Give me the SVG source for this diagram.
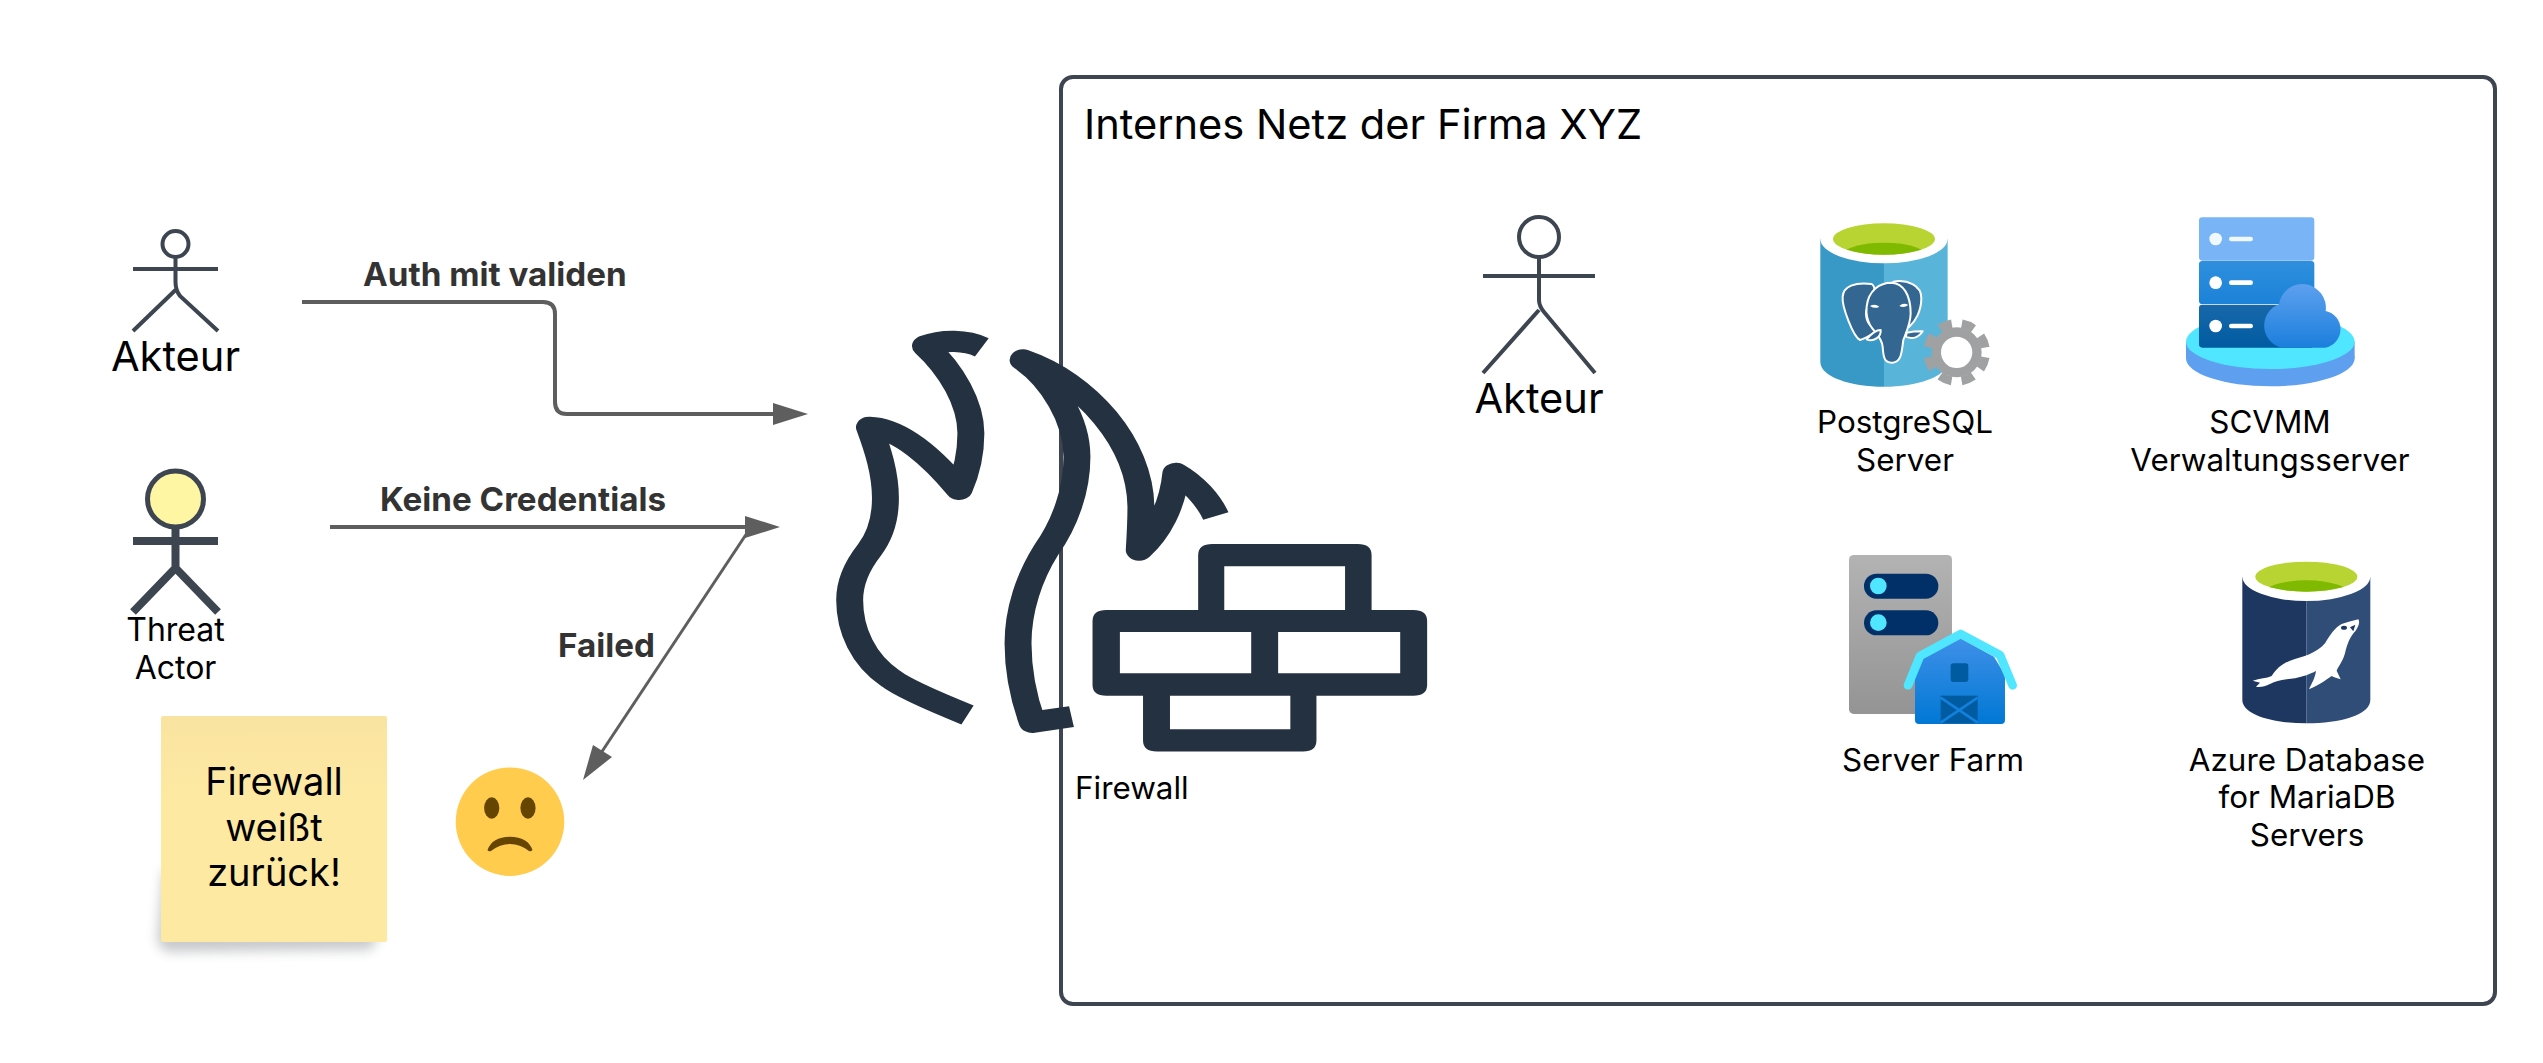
<svg xmlns="http://www.w3.org/2000/svg" width="2543" height="1063" viewBox="0 0 2543 1063">
<style>
text{font-family:"Inter","Liberation Sans",sans-serif;fill:#000}
.m{text-anchor:middle}
.l{font-weight:700;fill:#333;font-size:33.2px}
.t32{font-size:32px}
.t31{font-size:31.4px}
.t40{font-size:41.6px}
.st{font-size:38px}
.act{fill:none;stroke:#3d4550;stroke-width:4}
.con{fill:none;stroke:#5e5e5e;stroke-width:4}
</style>
<defs>
<linearGradient id="st" x1="0" y1="0" x2="0" y2="1"><stop offset="0" stop-color="#f9e3a0"/><stop offset=".35" stop-color="#fee9a3"/><stop offset="1" stop-color="#fee9a3"/></linearGradient>
<linearGradient id="cl" x1="0" y1="0" x2="0" y2="1"><stop offset="0" stop-color="#5ea0ef"/><stop offset="1" stop-color="#1b7fdc"/></linearGradient>
<linearGradient id="sv2" x1="0" y1="0" x2="0" y2="1"><stop offset="0" stop-color="#2f8fdd"/><stop offset="1" stop-color="#1b82d8"/></linearGradient>
<linearGradient id="sv3" x1="0" y1="0" x2="0" y2="1"><stop offset="0" stop-color="#1868aa"/><stop offset="1" stop-color="#005ba1"/></linearGradient>
<linearGradient id="gr" x1="0" y1="0" x2="0" y2="1"><stop offset="0" stop-color="#b3b3b3"/><stop offset="1" stop-color="#949494"/></linearGradient>
<linearGradient id="ba" x1="0" y1="0" x2="0" y2="1"><stop offset="0" stop-color="#3f90e8"/><stop offset="1" stop-color="#0078d4"/></linearGradient>
<filter id="sh" x="-30%" y="-30%" width="160%" height="160%"><feGaussianBlur stdDeviation="6"/></filter>
<clipPath id="pgg"><ellipse cx="372" cy="147" rx="153" ry="47"/></clipPath>
<clipPath id="mag"><ellipse cx="289" cy="110" rx="153" ry="45"/></clipPath>
</defs>

<g id="network-zone">
<rect x="1061" y="77" width="1434" height="927" rx="12" fill="#fff" stroke="#3d4550" stroke-width="4"/>
<text x="1084" y="139" style="font-size:41.6px">Internes Netz der Firma XYZ</text>
</g>

<g id="connectors">
<path class="con" d="M302,302H543Q555,302 555,314V402Q555,414 567,414H775"/>
<polygon points="773,403 808,414 773,425" fill="#5e5e5e"/>
<text class="l" x="363" y="286">Auth mit validen</text>
<path class="con" d="M330,527H747"/>
<polygon points="745,516 780,527 745,538" fill="#5e5e5e"/>
<text class="l" x="380" y="511">Keine Credentials</text>
<path class="con" d="M749,530L601,753" style="stroke-width:3"/>
<polygon points="583,780 593,745 612,757" fill="#5e5e5e"/>
<text class="l" x="558" y="657">Failed</text>
</g>

<g id="actor-akteur">
<ellipse class="act" cx="175.5" cy="244" rx="13" ry="13"/>
<path class="act" d="M133,269H218M175.5,257V282Q175.5,290 180,296L218,331M175.5,290L133,331"/>
<text class="m t40" x="175.5" y="371">Akteur</text>
</g>

<g id="actor-threat">
<path d="M175.5,527V568M133,541H218M175.5,568L133,612M175.5,568L218,612" fill="none" stroke="#3d4550" stroke-width="8"/>
<ellipse cx="175.5" cy="499" rx="28" ry="28" fill="#fff6a3" stroke="#3d4550" stroke-width="5"/>
<text class="m t32" x="175.5" y="641">Threat</text>
<text class="m t32" x="175.5" y="679">Actor</text>
</g>

<g id="sticky-note">
<path d="M163,870L157,942L166,952L370,950L380,936Z" fill="#4a4f56" opacity=".3" filter="url(#sh)"/>
<rect x="161" y="716" width="226" height="226" rx="2" fill="url(#st)"/>
<text class="m st" x="274" y="795">Firewall</text>
<text class="m st" x="274" y="841">weißt</text>
<text class="m st" x="274" y="886">zurück!</text>
</g>

<g id="sad-face">
<circle cx="510" cy="821.7" r="54.3" fill="#ffcc4d"/>
<ellipse cx="491.7" cy="808" rx="7.6" ry="10.7" fill="#664500"/>
<ellipse cx="528" cy="808" rx="7.6" ry="10.7" fill="#664500"/>
<path d="M487.5,850Q492,837 510,836.7Q528,837 532.5,850Q531,852 529,851Q520,844 510,844Q500,844 491,851Q488.5,852 487.5,850Z" fill="#664500"/>
</g>

<g id="firewall">
<g transform="translate(800 310) scale(.4209 .3333)" fill="none" stroke="#243140" stroke-width="64" stroke-linejoin="round">
<path d="M398,1215C300,1165 240,1130 215,1105C150,1050 118,960 118,870C118,810 140,760 165,720C195,670 203,620 203,565C203,490 185,420 165,352C240,355 320,450 378,538C395,490 406,430 406,370C406,280 360,180 298,108C340,88 395,90 432,112"/>
<path d="M645,1220L552,1237C530,1160 518,1080 518,1000C518,900 545,800 585,720C630,640 658,540 658,440C658,330 600,210 530,150C680,215 808,400 810,590C810,640 808,680 806,720C850,670 885,590 893,490C935,520 970,570 988,618"/>
</g>
<g transform="translate(800 310) scale(.4209 .3333)">
<path fill="#243140" fill-rule="evenodd" d="M980,702H1325Q1358,702 1358,735V900H1457Q1490,900 1490,933V1125Q1490,1157 1457,1157H1227V1292Q1227,1325 1195,1325H848Q815,1325 815,1292V1157H728Q695,1157 695,1125V933Q695,900 728,900H946V735Q946,702 980,702ZM1008,769V900H1295V769ZM760,966V1090H1072V966ZM1136,966V1090H1426V966ZM879,1157V1258H1165V1157Z"/>
</g>
<text x="1075" y="799" style="font-size:31.4px">Firewall</text>
</g>

<g id="actor-akteur-intern">
<ellipse class="act" cx="1539" cy="237" rx="20" ry="20"/>
<path class="act" d="M1483,276H1595M1539,257V300Q1539,306 1544,312L1595,373M1539,310L1483,373"/>
<text class="m t40" x="1539" y="413">Akteur</text>
</g>

<g id="postgresql-server">
<g transform="translate(1760 190) scale(.3333)">
<path d="M181,147V515C181,560 270,590 372,590V147Z" fill="#3999c6"/>
<path d="M372,147V590C470,590 563,560 563,515V147Z" fill="#59b4d9"/>
<ellipse cx="372" cy="147" rx="191" ry="73" fill="#fff"/>
<ellipse cx="372" cy="147" rx="153" ry="47" fill="#b8d432"/>
<ellipse cx="372" cy="205" rx="135" ry="47" fill="#7fba00" clip-path="url(#pgg)"/>
<g fill="#336791" stroke="#fff" stroke-width="6" stroke-linejoin="round">
<path d="M248,320C250,290 285,275 335,282C360,300 320,330 318,370C318,395 330,412 355,420C330,435 320,445 300,450C280,440 245,350 248,320Z"/>
<path d="M400,275C440,268 485,285 484,325C484,365 465,395 448,410L415,340Z"/>
<path d="M320,350C325,300 360,278 395,278C430,280 452,315 452,370C452,400 440,425 430,450C425,485 425,515 398,518C372,520 370,500 368,470C365,440 345,430 330,405C322,390 318,370 320,350Z"/>
<path d="M320,448C335,430 350,420 362,420C365,440 340,458 320,448ZM440,428C455,425 475,424 488,424C475,445 455,448 438,440Z"/>
</g>
<path d="M330,348Q345,340 358,350Q345,358 330,348ZM418,348Q430,336 445,345Q432,356 418,348Z" fill="#fff"/>
<circle cx="590" cy="487" r="61" fill="#fff" stroke="#a0a1a2" stroke-width="28"/>
<circle cx="590" cy="487" r="87" fill="none" stroke="#a0a1a2" stroke-width="26" stroke-dasharray="38 30.33" stroke-dashoffset="-15"/>
</g>
<text class="m t31" x="1905" y="433">PostgreSQL</text>
<text class="m t31" x="1905" y="471">Server</text>
</g>

<g id="scvmm-server">
<g transform="translate(2150 190) scale(.3333)">
<ellipse cx="361" cy="505" rx="253" ry="84" fill="#5ea0ef"/>
<rect x="108" y="455" width="506" height="50" fill="#5ea0ef"/>
<ellipse cx="361" cy="455" rx="253" ry="82" fill="#50e6ff"/>
<rect x="147" y="82" width="346" height="130" rx="10" fill="#79b4f6"/>
<rect x="147" y="213" width="346" height="129" rx="10" fill="url(#sv2)"/>
<rect x="147" y="344" width="346" height="129" rx="10" fill="url(#sv3)"/>
<circle cx="197" cy="147" r="19" fill="#f0f9ff"/><circle cx="197" cy="278" r="19" fill="#fff"/><circle cx="197" cy="408" r="19" fill="#fff"/>
<rect x="237" y="140" width="72" height="14" rx="7" fill="#f0f9ff"/><rect x="237" y="271" width="72" height="14" rx="7" fill="#fff"/><rect x="237" y="401" width="72" height="14" rx="7" fill="#fff"/>
<path d="M395,473A68,68 0 0 1 387,343A70,70 0 0 1 527,363A56,56 0 0 1 525,473Z" fill="url(#cl)"/>
</g>
<text class="m t31" x="2270" y="433">SCVMM</text>
<text class="m t31" x="2270" y="471">Verwaltungsserver</text>
</g>

<g id="server-farm">
<g transform="translate(1820 530) scale(.3333)">
<rect x="87" y="75" width="309" height="477" rx="14" fill="url(#gr)"/>
<rect x="132" y="131" width="223" height="75" rx="37" fill="#003067"/>
<rect x="132" y="241" width="223" height="75" rx="37" fill="#003067"/>
<circle cx="175" cy="168" r="25" fill="#50e6ff"/><circle cx="175" cy="278" r="25" fill="#50e6ff"/>
<path d="M285,435L305,385L422,325L522,380L555,435V570Q555,582 543,582H297Q285,582 285,570Z" fill="url(#ba)"/>
<path d="M264,466L300,378L422,312L540,375L578,466" fill="none" stroke="#50e6ff" stroke-width="26" stroke-linecap="round" stroke-linejoin="round"/>
<rect x="392" y="400" width="53" height="56" rx="8" fill="#005ba1"/>
<rect x="362" y="497" width="111" height="83" fill="#005ba1"/>
<path d="M362,503L473,578M473,503L362,578" stroke="#1380dc" stroke-width="8" fill="none"/>
</g>
<text class="m t31" x="1933" y="771">Server Farm</text>
</g>

<g id="mariadb-server">
<g transform="translate(2210 540) scale(.3333)">
<path d="M97,112V480C97,525 190,550 289,550V112Z" fill="#1d3761"/>
<path d="M289,112V550C390,550 481,525 481,480V112Z" fill="#304d78"/>
<ellipse cx="289" cy="110" rx="192" ry="73" fill="#fff"/>
<ellipse cx="289" cy="110" rx="153" ry="45" fill="#b8d432"/>
<ellipse cx="289" cy="167" rx="135" ry="46" fill="#7fba00" clip-path="url(#mag)"/>
<path d="M128,422C150,415 170,415 185,408C200,385 215,372 240,362C280,350 320,340 345,310C360,285 375,262 395,252C415,245 430,242 445,238C450,245 447,258 437,272C420,290 412,310 405,340C398,365 385,380 380,392L392,418C382,415 372,412 365,408L340,425C325,435 310,442 297,448C305,430 315,415 318,393C295,405 265,415 230,418C210,420 195,425 180,432C165,440 150,442 138,440L150,428Z" fill="#fff"/>
<ellipse cx="402" cy="263" rx="9" ry="6" fill="#1d3761"/>
<path d="M420,262L436,254L430,274Z" fill="#1d3761"/>
</g>
<text class="m t31" x="2307" y="771">Azure Database</text>
<text class="m t31" x="2307" y="808">for MariaDB</text>
<text class="m t31" x="2307" y="846">Servers</text>
</g>
</svg>
